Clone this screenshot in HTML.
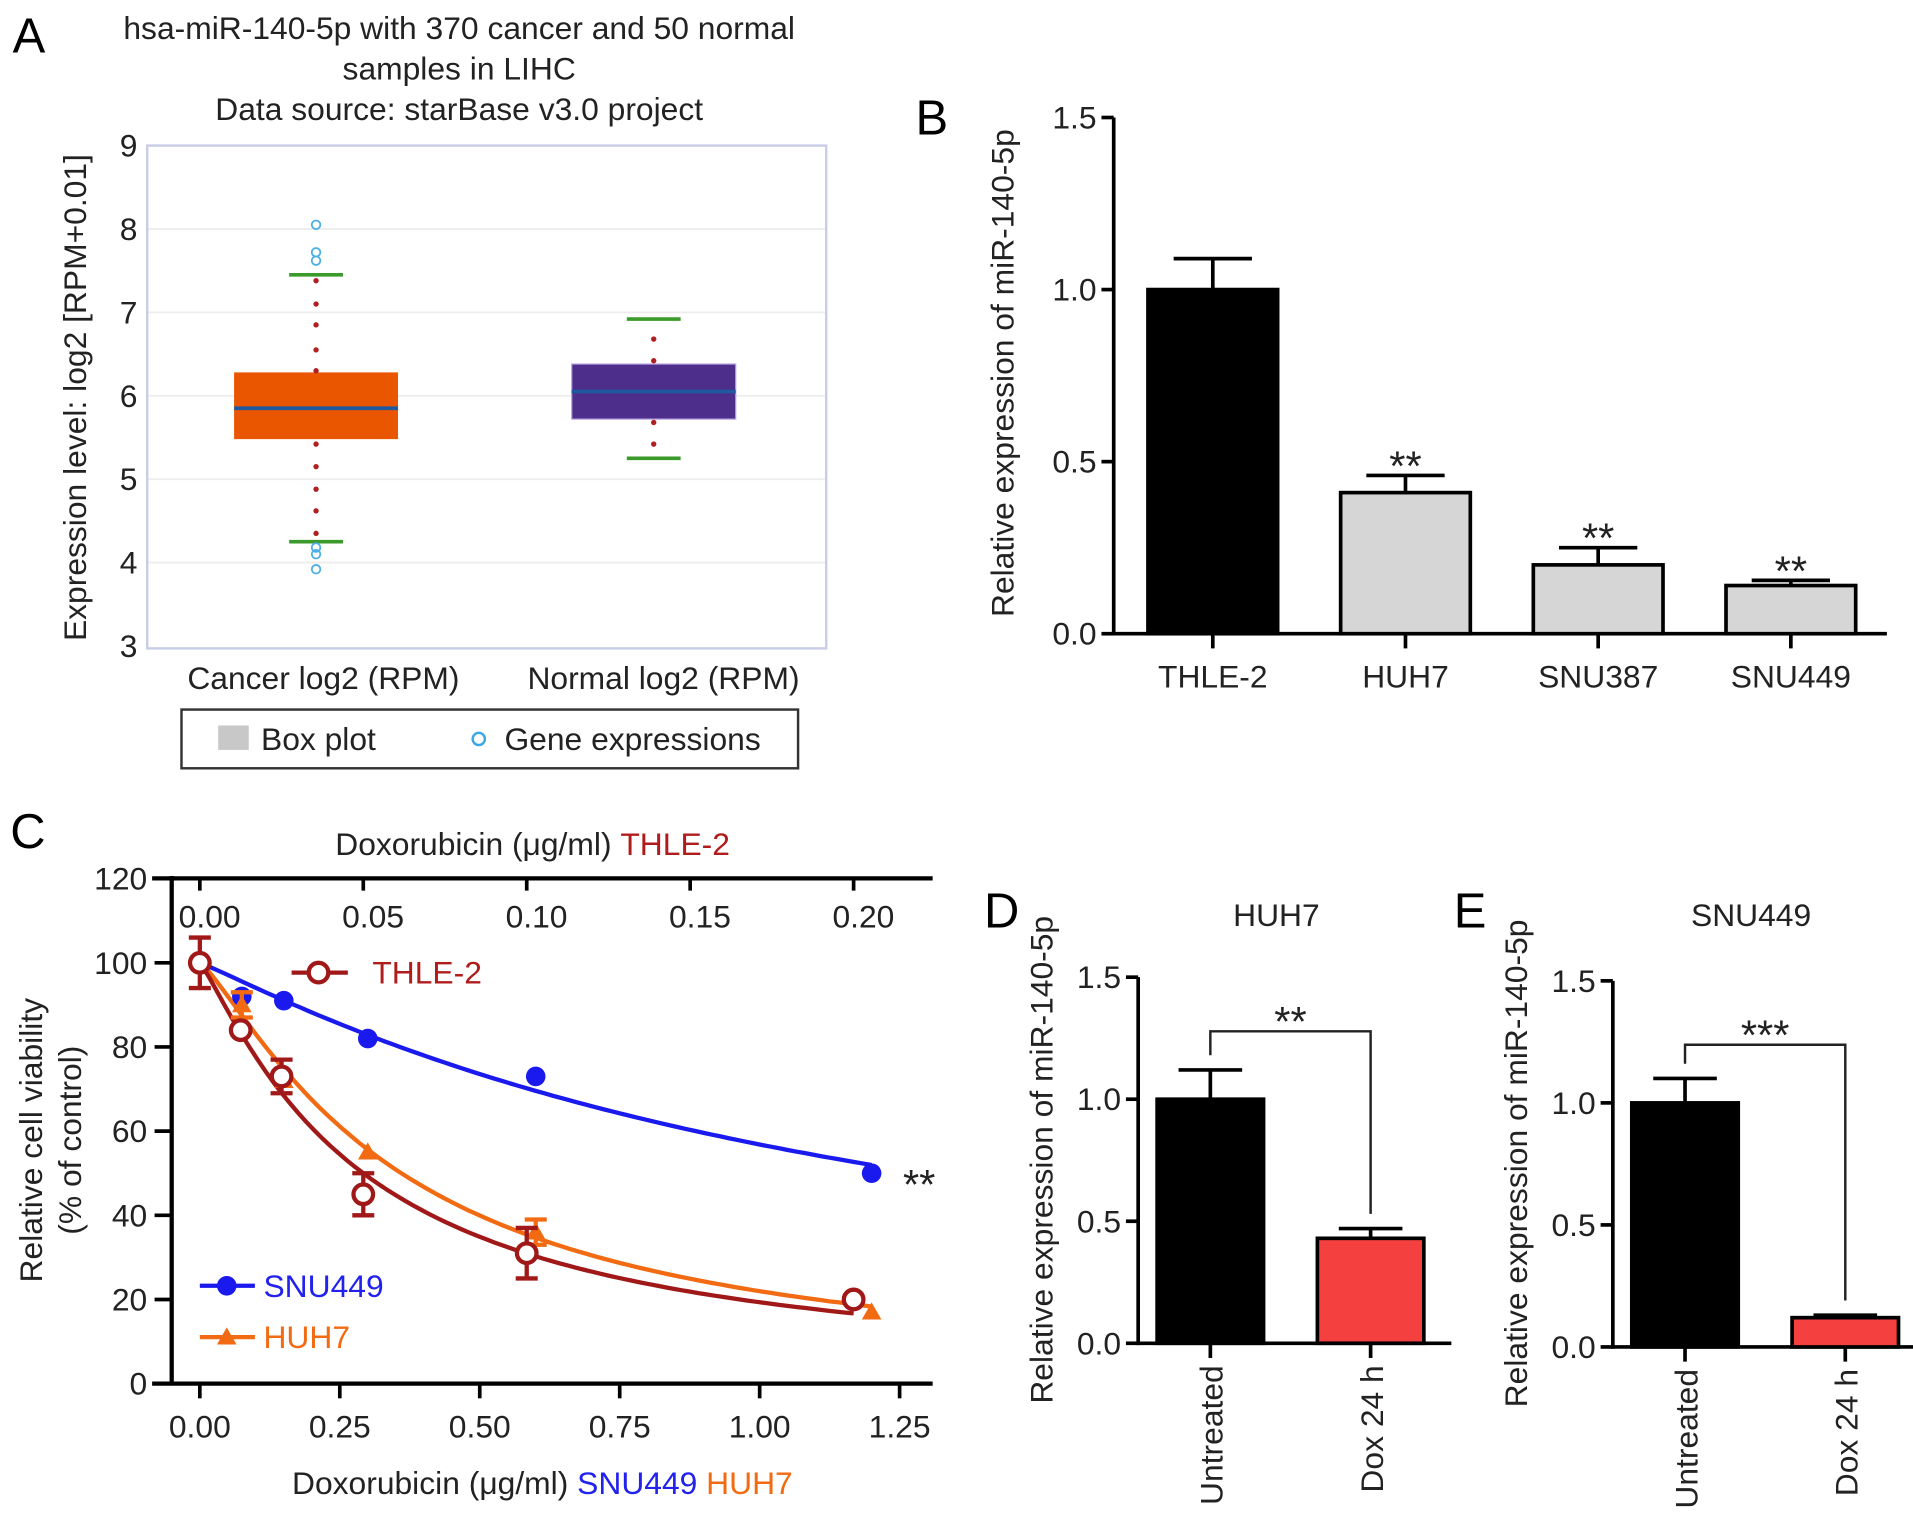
<!DOCTYPE html>
<html><head><meta charset="utf-8"><style>
html,body{margin:0;padding:0;background:#fff}
svg{display:block}
text{font-family:"Liberation Sans",Arial,sans-serif}
</style></head><body>
<svg id="fig" width="1913" height="1517" viewBox="0 0 1563 1240" xmlns="http://www.w3.org/2000/svg">
<rect width="1563" height="1240" fill="#fff"/>
<text x="10" y="43" font-size="40">A</text>
<text x="748" y="110" font-size="40">B</text>
<text x="8" y="693" font-size="40">C</text>
<text x="804" y="758" font-size="40">D</text>
<text x="1188" y="758" font-size="40">E</text>

<g font-size="26" fill="#222">
<text x="375" y="32" text-anchor="middle">hsa-miR-140-5p with 370 cancer and 50 normal</text>
<text x="375" y="65" text-anchor="middle">samples in LIHC</text>
<text x="375" y="98" text-anchor="middle">Data source: starBase v3.0 project</text>
<text transform="translate(70,325) rotate(-90)" text-anchor="middle">Expression level: log2 [RPM+0.01]</text>
<text x="415" y="166" text-anchor="middle">P=0.018</text>
<rect x="148" y="580" width="504" height="48" fill="#fff" stroke="#333" stroke-width="2"/>
<rect x="178" y="593" width="25" height="20" fill="#c8c8c8"/>
<text x="213" y="613">Box plot</text>
<circle cx="391" cy="604" r="5" fill="none" stroke="#3aa8e8" stroke-width="2"/>
<text x="412" y="613">Gene expressions</text>
</g>
<g id="ga"></g>
<g id="gb"></g>
<g id="gc"></g>
<g id="gd"></g>
<g id="ge"></g>
</svg>
<script>
// Panel A
const aCategories=["Cancer log2 (RPM)","Normal log2 (RPM)"];
const aQ1=[5.48,5.72];
const aQ3=[6.28,6.38];
const aMedian=[5.85,6.05];
const aWhiskLo=[4.25,5.25];
const aWhiskHi=[7.45,6.92];
const aDotsCancer=[7.38,7.1,6.85,6.55,6.3,5.42,5.15,4.88,4.62,4.35];
const aDotsNormal=[6.68,6.42,5.68,5.42];
const aOutliersCancer=[8.05,7.72,7.62,4.18,4.1,3.92];
const aTicks=[3,4,5,6,7,8,9];
// Panel B
const bCategories=["THLE-2","HUH7","SNU387","SNU449"];
const bValues=[1.0,0.41,0.2,0.14];
const bErrors=[0.09,0.05,0.05,0.015];
const bSig=["","**","**","**"];
const barTicks=[0,0.5,1.0,1.5];
const barTickLabels=["0.0","0.5","1.0","1.5"];
// Panel C
const cDoseBottom=[0,0.075,0.15,0.3,0.6,1.2];
const cSNU449=[100,92,91,82,73,50];
const cHUH7=[100,90,72,55,36,17];
const cHUH7Err=[0,3,0,0,3,0];
const cDoseTop=[0,0.0125,0.025,0.05,0.1,0.2];
const cTHLE2=[100,84,73,45,31,20];
const cTHLE2Err=[6,0,4,5,6,0];
const cYTicks=[0,20,40,60,80,100,120];
const cBottomTicks=[0,0.25,0.5,0.75,1.0,1.25];
const cBottomTickLabels=["0.00","0.25","0.50","0.75","1.00","1.25"];
const cTopTicks=[0,0.05,0.1,0.15,0.2];
const cTopTickLabels=["0.00","0.05","0.10","0.15","0.20"];
// Panel D/E
const deCategories=["Untreated","Dox 24 h"];
const dValues=[1.0,0.43];
const dErrors=[0.12,0.04];
const eValues=[1.0,0.12];
const eErrors=[0.1,0.01];

const NS="http://www.w3.org/2000/svg";
function mk(tag,attrs,parent){const e=document.createElementNS(NS,tag);for(const k in attrs)e.setAttribute(k,attrs[k]);parent.appendChild(e);return e;}
function txt(str,attrs,parent){const e=mk("text",attrs,parent);e.textContent=str;return e;}

// ---------- PANEL A ----------
(function(){
const g=document.getElementById("ga");
const yA=v=>528-(v-3)*68.17;
const cx=[258,534], halfW=[67,67], cols=["#ea5500","#4d2e8a"];
mk("rect",{x:120,y:119,width:555,height:411,fill:"#fff",stroke:"#c9cde6","stroke-width":2},g);
aTicks.forEach(t=>{
  if(t>3&&t<9){const l=mk("line",{x1:121,x2:674,y1:yA(t),y2:yA(t),stroke:"#ededed","stroke-width":1.5},g);
  
  }
  const tl=txt(String(t),{x:112,y:yA(t)+9,"text-anchor":"end","font-size":26,fill:"#222"},g);
  
  
});
aCategories.forEach((c,i)=>{
  const x=cx[i];
  const lab=txt(c,{x:i==0?264:542,y:563,"text-anchor":"middle","font-size":26,fill:"#222"},g);
  
  
  const box=mk("rect",{x:x-halfW[i],y:yA(aQ3[i]),width:2*halfW[i],height:yA(aQ1[i])-yA(aQ3[i]),fill:cols[i],stroke:i?"#b49de0":"none","stroke-width":1},g);
  
  
  const med=mk("line",{x1:x-halfW[i],x2:x+halfW[i],y1:yA(aMedian[i]),y2:yA(aMedian[i]),stroke:"#1f5aa0","stroke-width":3},g);
  
  
  [aWhiskLo[i],aWhiskHi[i]].forEach(w=>{
    const cap=mk("line",{x1:x-22,x2:x+22,y1:yA(w),y2:yA(w),stroke:"#3a9a2a","stroke-width":3},g);
    
    
  });
  const dots=i?aDotsNormal:aDotsCancer;
  dots.forEach(d=>{const c2=mk("circle",{cx:x,cy:yA(d),r:2.2,fill:"#b02020"},g);
    
    });
});
aOutliersCancer.forEach(o=>{const c=mk("circle",{cx:258,cy:yA(o),r:3.5,fill:"none",stroke:"#4fb0e8","stroke-width":1.5},g);
  
  });
})();

function barPanel(g,opt){
  const y=v=>opt.y0-v*opt.k;
  mk("line",{x1:opt.ax,x2:opt.ax,y1:y(1.5),y2:y(0)+1.5,stroke:"#000","stroke-width":3},g);
  mk("line",{x1:opt.ax,x2:opt.xEnd,y1:y(0),y2:y(0),stroke:"#000","stroke-width":3},g);
  barTicks.forEach((t,i)=>{
    const tk=mk("line",{x1:opt.ax-10,x2:opt.ax,y1:y(t),y2:y(t),stroke:"#000","stroke-width":3},g);
    
    
    const tl=txt(barTickLabels[i],{x:opt.ax-14,y:y(t)+9,"text-anchor":"end","font-size":26,fill:"#222"},g);
    
    
  });
  const yl=txt("Relative expression of miR-140-5p",{transform:`translate(${opt.ylx},${opt.yly}) rotate(-90)`,"text-anchor":"middle","font-size":26,fill:"#222"},g);
  
  
  opt.cats.forEach((c,i)=>{
    const cx=opt.x0+i*opt.step, v=opt.vals[i], e=opt.errs[i];
    const er=mk("line",{x1:cx,x2:cx,y1:y(v),y2:y(v+e),stroke:"#000","stroke-width":3},g);
    
    
    const ec=mk("line",{x1:cx-opt.cap,x2:cx+opt.cap,y1:y(v+e),y2:y(v+e),stroke:"#000","stroke-width":3},g);
    
    
    const b=mk("rect",{x:cx-opt.bw/2,y:y(v),width:opt.bw,height:y(0)-y(v),fill:opt.fills[i],stroke:"#000","stroke-width":3},g);
    
    
    const tk=mk("line",{x1:cx,x2:cx,y1:y(0),y2:y(0)+12,stroke:"#000","stroke-width":3},g);
    
    
    let lab;
    if(opt.rot){lab=txt(c,{transform:`translate(${cx+10},${y(0)+18}) rotate(-90)`,"text-anchor":"end","font-size":26,fill:"#222"},g);}
    else{lab=txt(c,{x:cx,y:y(0)+44,"text-anchor":"middle","font-size":26,fill:"#222"},g);}
    
    
    if(opt.sig&&opt.sig[i]){const s=txt(opt.sig[i],{x:cx,y:y(v+e)+4,"text-anchor":"middle","font-size":34,fill:"#222"},g);
      
      }
  });
  return y;
}
barPanel(document.getElementById("gb"),{y0:518,k:281.3,ax:910,xEnd:1542,x0:991,step:157.5,bw:106,cap:32,
  cats:bCategories,vals:bValues,errs:bErrors,fills:["#000","#d6d6d6","#d6d6d6","#d6d6d6"],sig:bSig,ylx:828,yly:305,rot:false});

function dePanel(id,vals,errs,ax,y0,title,stars,bracketY){
  const g=document.getElementById(id);
  const y=barPanel(g,{y0:y0,k:199.5,ax:ax,xEnd:ax+256,x0:ax+59,step:131,bw:87,cap:26,
    cats:deCategories,vals:vals,errs:errs,fills:["#000","#f54040"],ylx:ax-70,yly:y0-150,rot:true});
  const t=txt(title,{x:ax+113,y:757,"text-anchor":"middle","font-size":26,fill:"#222"},g);
  
  
  const x1=ax+59,x2=ax+190;
  const br=mk("path",{d:`M${x1},${y(vals[0]+errs[0])-12}V${bracketY}H${x2}V${y(vals[1]+errs[1])-12}`,fill:"none",stroke:"#222","stroke-width":2},g);
  
  
  const s=txt(stars,{x:(x1+x2)/2,y:bracketY+4,"text-anchor":"middle","font-size":34,fill:"#222"},g);
  
  
}
dePanel("gd",dValues,dErrors,930,1098,"HUH7","**",843);
dePanel("ge",eValues,eErrors,1318,1101,"SNU449","***",854);

// ---------- PANEL C ----------
(function(){
const g=document.getElementById("gc");
const yC=v=>1131-v*3.44;
const xB=v=>163+v*457.6;
const xT=v=>163+v*2672;
mk("line",{x1:140,x2:140,y1:716,y2:1132,stroke:"#000","stroke-width":3.5},g);
mk("line",{x1:124,x2:762,y1:1131,y2:1131,stroke:"#000","stroke-width":3.5},g);
mk("line",{x1:124,x2:762,y1:718,y2:718,stroke:"#000","stroke-width":3.5},g);
cYTicks.forEach(t=>{
  const tk=mk("line",{x1:126,x2:140,y1:yC(t),y2:yC(t),stroke:"#000","stroke-width":3},g);
  
  
  const tl=txt(String(t),{x:120,y:yC(t)+9,"text-anchor":"end","font-size":26,fill:"#222"},g);
  
  
});
cBottomTicks.forEach((t,i)=>{
  const tk=mk("line",{x1:xB(t),x2:xB(t),y1:1131,y2:1143,stroke:"#000","stroke-width":3},g);
  
  
  const tl=txt(cBottomTickLabels[i],{x:xB(t),y:1175,"text-anchor":"middle","font-size":26,fill:"#222"},g);
  
  
});
cTopTicks.forEach((t,i)=>{
  const tk=mk("line",{x1:xT(t),x2:xT(t),y1:718,y2:728,stroke:"#000","stroke-width":3},g);
  
  
  const tl=txt(cTopTickLabels[i],{x:xT(t)+8,y:758,"text-anchor":"middle","font-size":26,fill:"#222"},g);
  
  
});
const yl1=txt("Relative cell viability",{transform:"translate(34,932) rotate(-90)","text-anchor":"middle","font-size":26,fill:"#222"},g);


const yl2=txt("(% of control)",{transform:"translate(66,932) rotate(-90)","text-anchor":"middle","font-size":26,fill:"#222"},g);


const tt=mk("text",{x:435,y:699,"text-anchor":"middle","font-size":26,fill:"#222"},g);
tt.innerHTML='Doxorubicin (μg/ml) <tspan fill="#b01c1c">THLE-2</tspan>';


const bt=mk("text",{x:443,y:1221,"text-anchor":"middle","font-size":26,fill:"#222"},g);
bt.innerHTML='Doxorubicin (μg/ml) <tspan fill="#2222ee">SNU449</tspan> <tspan fill="#f26a12">HUH7</tspan>';



// least-squares fit of y = 100/(1+(x/c)^h) to each series, then draw smooth curve
function fit(xs,ys){
  const xmax=xs[xs.length-1];let best=null;
  for(let ci=1;ci<=400;ci++){const c=xmax*ci/80;
    for(let hi=40;hi<=200;hi+=4){const h=hi/100;let s=0;
      xs.forEach((x,i)=>{const p=100/(1+Math.pow(x/c,h));s+=(p-ys[i])*(p-ys[i]);});
      if(!best||s<best.s)best={s,c,h};}}
  return best;
}
function curve(xs,ys,xf){
  const f=fit(xs,ys),xmax=xs[xs.length-1];let d="";
  for(let i=0;i<=80;i++){const x=xmax*i/80,v=100/(1+Math.pow(x/f.c,f.h));
    d+=(i?"L":"M")+xf(x).toFixed(1)+","+yC(v).toFixed(1);}
  return d;
}
const cs=[
 {name:"snu449",xs:cDoseBottom,ys:cSNU449,err:null,xf:xB,col:"#1a1aee"},
 {name:"huh7",xs:cDoseBottom,ys:cHUH7,err:cHUH7Err,xf:xB,col:"#f26a12"},
 {name:"thle-2",xs:cDoseTop,ys:cTHLE2,err:cTHLE2Err,xf:xT,col:"#a01818"}];
cs.forEach(s=>{
  const l=mk("path",{d:curve(s.xs,s.ys,s.xf),fill:"none",stroke:s.col,"stroke-width":3.5},g);
  
  
});
cs.forEach(s=>{
  s.xs.forEach((x,i)=>{
    const px=s.xf(x),py=yC(s.ys[i]);
    if(s.err&&s.err[i]){
      const e=s.err[i];
      const eb=mk("path",{d:`M${px},${yC(s.ys[i]+e)}V${yC(s.ys[i]-e)}M${px-9},${yC(s.ys[i]+e)}H${px+9}M${px-9},${yC(s.ys[i]-e)}H${px+9}`,stroke:s.col,"stroke-width":3.5,fill:"none"},g);
      
      
    }
    let m;
    if(s.name=="snu449") m=mk("circle",{cx:px,cy:py,r:8,fill:s.col},g);
    else if(s.name=="huh7") m=mk("path",{d:`M${px},${py-8}L${px+8},${py+6}L${px-8},${py+6}Z`,fill:s.col},g);
    else m=mk("circle",{cx:px,cy:py,r:8,fill:"#fff",stroke:s.col,"stroke-width":3.5},g);
    
    
  });
});
const st=txt("**",{x:751,y:980,"text-anchor":"middle","font-size":34,fill:"#222"},g);


const L1=mk("g",{},g);


mk("line",{x1:238,x2:284,y1:795,y2:795,stroke:"#a01818","stroke-width":3.5},L1);
mk("circle",{cx:260,cy:795,r:8,fill:"#fff",stroke:"#a01818","stroke-width":3.5},L1);
txt("THLE-2",{x:304,y:804,"font-size":26,fill:"#b01c1c"},L1);
const L2=mk("g",{},g);


mk("line",{x1:163,x2:208,y1:1051,y2:1051,stroke:"#1a1aee","stroke-width":3.5},L2);
mk("circle",{cx:185,cy:1051,r:8,fill:"#1a1aee"},L2);
txt("SNU449",{x:215,y:1060,"font-size":26,fill:"#2222ee"},L2);
const L3=mk("g",{},g);


mk("line",{x1:163,x2:208,y1:1093,y2:1093,stroke:"#f26a12","stroke-width":3.5},L3);
mk("path",{d:"M185,1085L193,1099L177,1099Z",fill:"#f26a12"},L3);
txt("HUH7",{x:215,y:1102,"font-size":26,fill:"#f26a12"},L3);
})();
</script>
</body></html>
